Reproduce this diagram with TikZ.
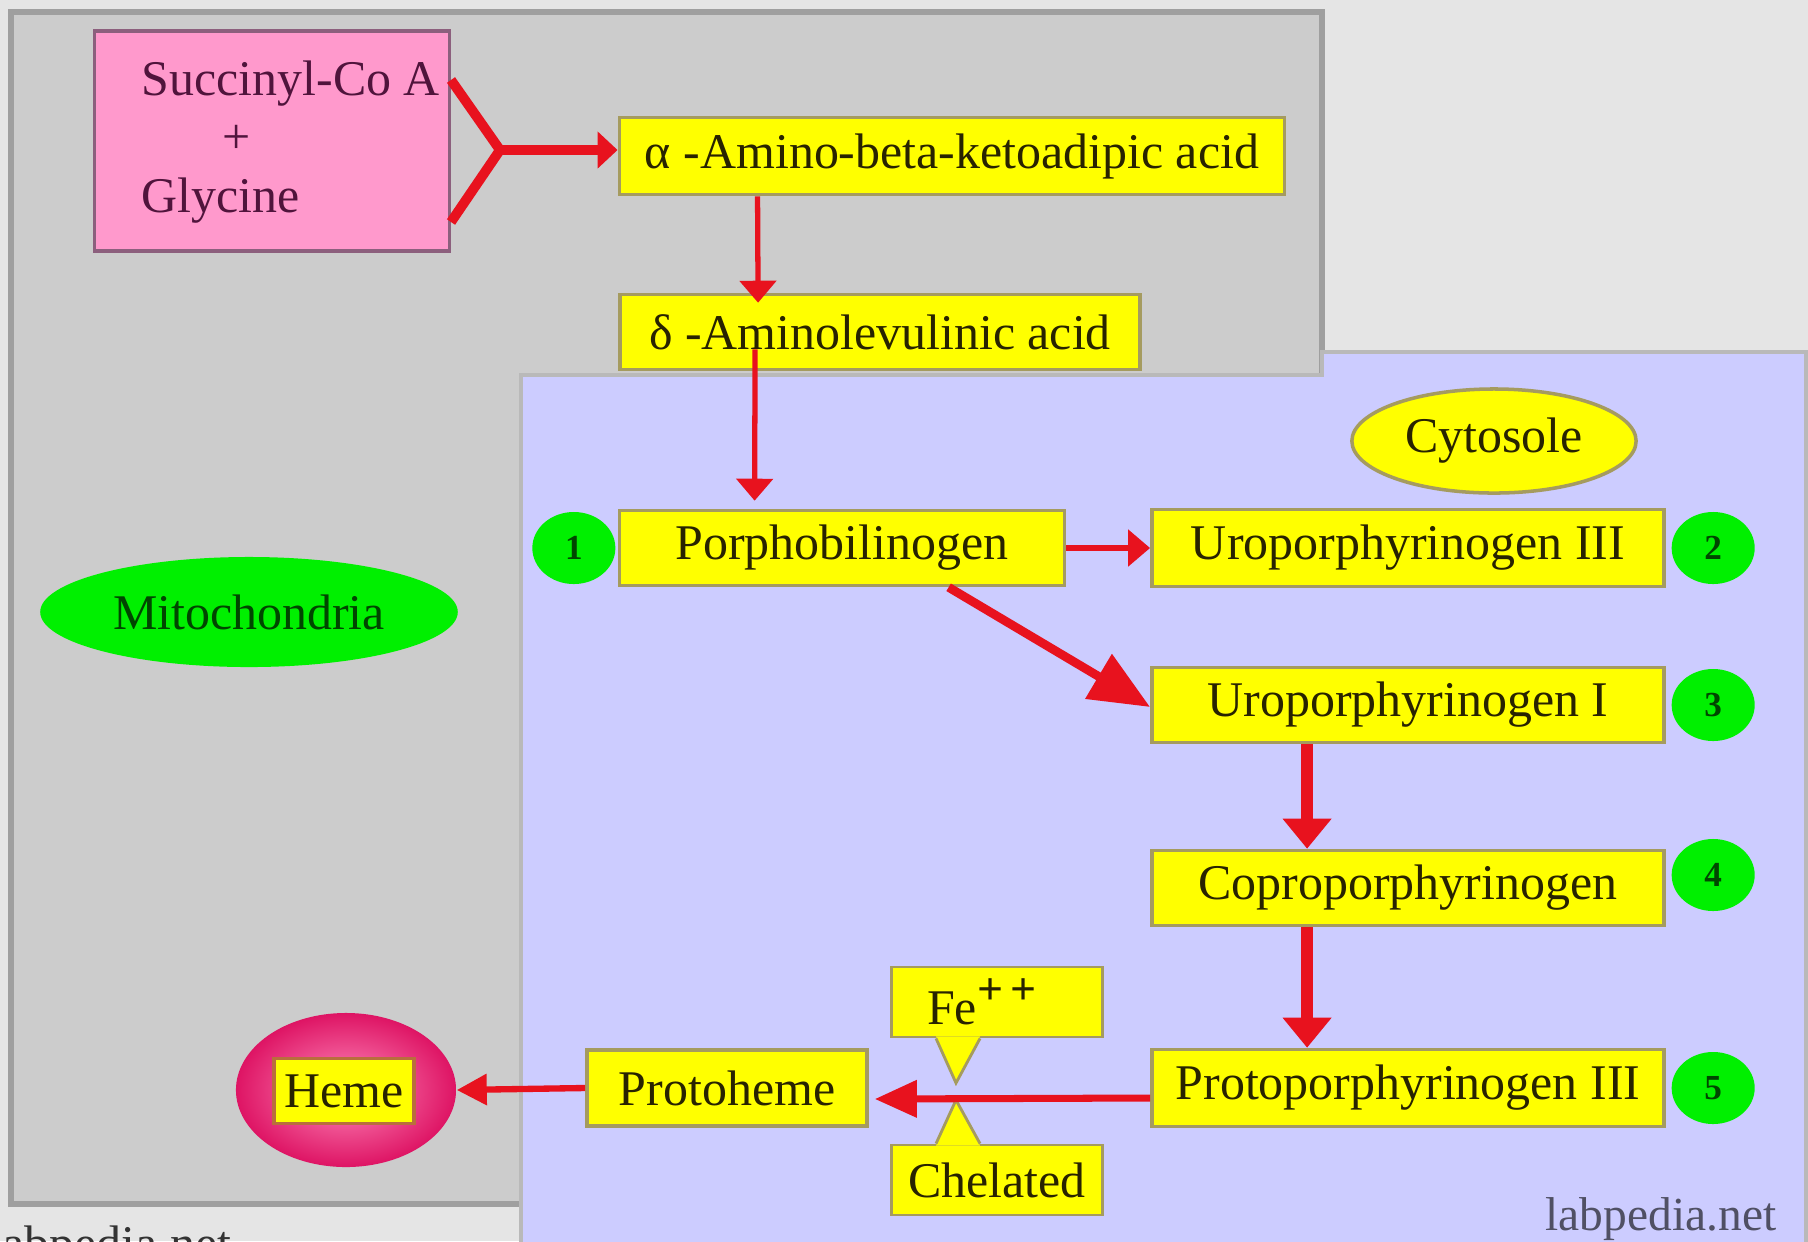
\documentclass[tikz,border=0pt]{standalone}
\usepackage{fontspec}
\setmainfont{Liberation Serif}
\usepackage{tikz}
\usetikzlibrary{positioning, calc, arrows.meta}
\usetikzlibrary{shapes.geometric}

\definecolor{pagegray}{RGB}{229,229,229}
\definecolor{panelgray}{RGB}{204,204,204}
\definecolor{panelblue}{RGB}{204,204,255}
\definecolor{boxyellow}{RGB}{255,255,0}
\definecolor{boxline}{RGB}{165,155,95}
\definecolor{boxtext}{RGB}{40,35,0}
\definecolor{pathred}{RGB}{232,18,30}
\definecolor{dotgreen}{RGB}{0,240,0}
\definecolor{succpink}{RGB}{255,153,204}
\definecolor{succline}{RGB}{140,95,125}
\definecolor{succtext}{RGB}{80,20,60}
\definecolor{mitotext}{RGB}{0,70,0}
\definecolor{wmtext}{RGB}{80,80,100}

\newcommand{\stepfont}{\fontsize{14.2}{17}\selectfont}
\newcommand{\numfont}{\fontsize{10}{12}\selectfont\bfseries}

\tikzstyle{stepbox} = [rectangle, fill=boxyellow, draw=boxline, line width=1pt, minimum height=0.75cm, inner sep=0pt, text centered, text=boxtext, font=\stepfont]
\tikzstyle{numdot} = [ellipse, fill=dotgreen, minimum width=0.83cm, minimum height=0.72cm, inner sep=0pt, text=mitotext, font=\numfont]
\tikzstyle{pointer} = [fill=boxyellow, draw=none]
\tikzstyle{pointerline} = [draw=boxline, line width=0.8pt, line join=miter]
\tikzstyle{thinarrow} = [draw=pathred, line width=1.5pt, -{Triangle[length=0.22cm,width=0.36cm]}]
\tikzstyle{thickarrow} = [draw=pathred, line width=3.4pt, -{Triangle[length=0.3cm,width=0.47cm]}]
\tikzstyle{diagarrow} = [draw=pathred, line width=2.5pt, -{Triangle[length=0.6cm,width=0.5cm]}]
\tikzstyle{wmark} = [inner sep=0pt, text=wmtext, font=\fontsize{13.5}{16}\selectfont]

\begin{document}
\begin{tikzpicture}[x=0.01cm, y=-0.01cm, on grid]
\useasboundingbox (0,0) rectangle (1808,1241);
\fill[pagegray] (0,0) rectangle (1808,1241);
% the two compartments
\draw[fill=panelgray, draw=gray!75, line width=1.5pt] (11,12) rectangle (1322,1204);
\draw[fill=panelblue, draw=gray!55, line width=1pt] (521,1260) -- (521,375) -- (1322,375) -- (1322,352) -- (1806,352) -- (1806,1260);

% mitochondria
\node[rectangle, fill=succpink, draw=succline, line width=1pt, minimum width=3.55cm, minimum height=2.2cm] (succ) at (272,141) {};
\node[align=left, anchor=west, inner sep=0pt, text=succtext, font=\fontsize{14.2}{16.6}\selectfont] (succtxt) at (141,142) {Succinyl-Co A\\\hspace{0.81cm}+\\Glycine};
\node[stepbox, minimum width=6.65cm, minimum height=0.77cm] (alpha) at (952,156) {α -Amino-beta-ketoadipic acid};
\node[stepbox, minimum width=5.2cm] (delta) at (880,332) {δ -Aminolevulinic acid};
\node[ellipse, fill=dotgreen, minimum width=4.05cm, minimum height=1.1cm, text=mitotext, font=\stepfont] (mito) at (249,612) {Mitochondria};

% cytosol
\node[ellipse, fill=boxyellow, draw=boxline, line width=1pt, minimum width=2.42cm, minimum height=1.04cm, text=boxtext, font=\stepfont] (cyto) at (1494,441) {Cytosole};
\node[stepbox, minimum width=4.45cm] (porph) at (842,548) {Porphobilinogen};
\node[stepbox, minimum width=5.12cm, minimum height=0.77cm] (uro3) at (1408,548) {Uroporphyrinogen III};
\node[stepbox, minimum width=5.12cm] (uro1) at (1408,705) {Uroporphyrinogen I};
\node[stepbox, minimum width=5.12cm] (copro) at (1408,888) {Coproporphyrinogen};
\node[stepbox, minimum width=5.12cm, minimum height=0.77cm] (proto3) at (1408,1088) {Protoporphyrinogen III};
\node[stepbox, minimum width=2.8cm, minimum height=0.76cm] (protoheme) at (727,1088) {Protoheme};
\node[numdot] (n_1) [left=2.68cm of porph] {1};
\node[numdot] (n_2) [right=3.05cm of uro3] {2};
\node[numdot] (n_3) [right=3.05cm of uro1] {3};
\node[numdot, yshift=0.13cm] (n_4) [right=3.05cm of copro] {4};
\node[numdot] (n_5) [right=3.05cm of proto3] {5};

% iron chelation
\node[stepbox, line width=0.8pt, minimum width=2.11cm, minimum height=0.7cm] (fe) at (997,1002) {\hspace{-0.3cm}Fe\raisebox{0.85ex}{\fontsize{13}{13}\selectfont\bfseries +\,+}};
\node[stepbox, line width=0.8pt, minimum width=2.11cm, minimum height=0.7cm] (chel) at (997,1180) {Chelated};
\coordinate (fetip) at (956,1083);
\coordinate (cheltip) at (956,1100);
\fill[pointer] ($(fe.south west)+(46,-2)$) -- (fetip) -- ($(fe.south west)+(90,-2)$) -- cycle;
\draw[pointerline] ($(fe.south west)+(46,0)$) -- (fetip) -- ($(fe.south west)+(90,0)$);
\fill[pointer] ($(chel.north west)+(46,2)$) -- (cheltip) -- ($(chel.north west)+(90,2)$) -- cycle;
\draw[pointerline] ($(chel.north west)+(46,0)$) -- (cheltip) -- ($(chel.north west)+(90,0)$);

% heme
\node[ellipse, minimum width=2.2cm, minimum height=1.54cm, shading=radial, inner color={rgb,255:red,255;green,140;blue,190}, outer color={rgb,255:red,222;green,20;blue,100}] (hemeball) at (346,1090) {};
\node[stepbox, draw={rgb,255:red,185;green,110;blue,60}, minimum width=1.4cm, minimum height=0.65cm] (heme) at (344,1091) {Heme};

% arrows
\coordinate (fa) at (451,80);
\coordinate (fb) at (451,222);
\coordinate (fork) at (500,150);
\draw[draw=pathred, line width=2.8pt, line join=miter] (fa) -- (fork) -- (fb);
\draw[draw=pathred, line width=2.8pt, -{Triangle[length=0.2cm,width=0.36cm]}] (fork) -- (fork -| alpha.west);
\draw[thinarrow] ($(alpha.south west)+(140,0)$) -- ($(delta.north west)+(140,10)$);
\draw[thinarrow] ($(delta.south west)+(137,-22)$) -- ($(porph.north west)+(137,-8)$);
\draw[thinarrow] (porph.east) -- (uro3.west);
\draw[diagarrow] ($(porph.south west)+(331,0)$) -- ($(uro1.west)+(0,2)$);
\draw[thickarrow] ($(uro1.south west)+(157,0)$) -- ($(copro.north west)+(157,0)$);
\draw[thickarrow] ($(copro.south west)+(157,0)$) -- ($(proto3.north west)+(157,0)$);
\draw[draw=pathred, line width=2pt, -{Triangle[length=0.42cm,width=0.36cm]}] ($(proto3.west)+(0,10)$) -- ($(protoheme.east)+(6,11)$);
\draw[thinarrow, line width=1.8pt, -{Triangle[length=0.3cm,width=0.3cm]}] (protoheme.west) -- (hemeball.east);

% watermarks
\node[wmark, anchor=base east] (wm_r) at (1777,1230) {labpedia.net};
\node[wmark, anchor=base east, text=black!80, font=\stepfont] (wm_l) at (232,1260) {labpedia.net};
\end{tikzpicture}
\end{document}
